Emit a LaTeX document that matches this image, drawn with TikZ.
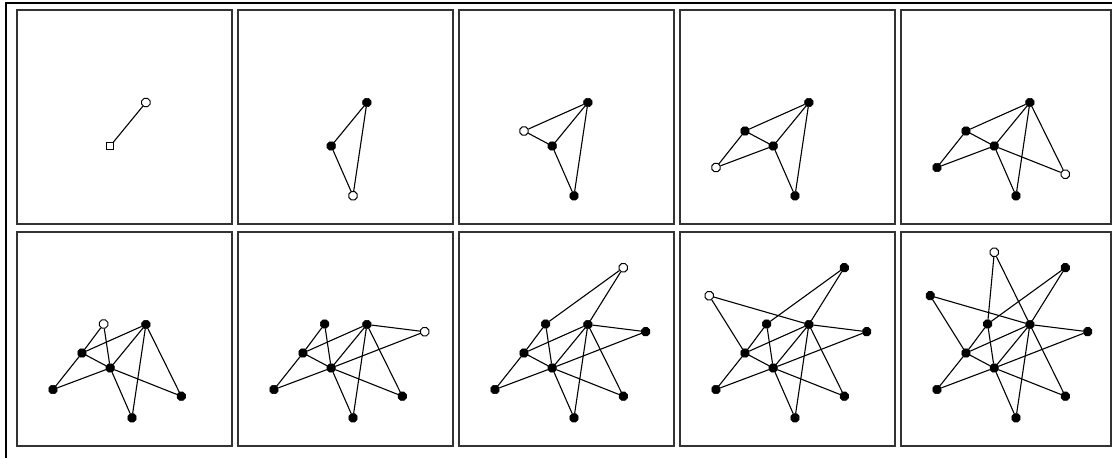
\documentclass[tikz,border=0pt]{standalone}
\usetikzlibrary{shapes.geometric}
\tikzset{
  panelbox/.style={draw=black!80, line width=1.4pt},
  outerline/.style={draw=black, line width=2.2pt},
  vtx/.style={regular polygon, regular polygon sides=8, inner sep=0pt, minimum size=9pt, fill=black, draw=black, line width=0.6pt},
  newvtx/.style={vtx, fill=white, line width=1pt},
  firstvtx/.style={rectangle, inner sep=0pt, minimum size=6.5pt, fill=white, draw=black, line width=1pt},
  link/.style={draw=black, line width=1.1pt}
}
\begin{document}
\begin{tikzpicture}[x=1pt, y=-1pt]
\useasboundingbox (0,0) rectangle (1112,458);
\fill[white] (0,0) rectangle (1112,458);
\draw[outerline] (6,458) -- (6,3) -- (1112,3);
\foreach \p in {1,...,10} {
  \pgfmathtruncatemacro\col{mod(\p-1,5)}
  \pgfmathtruncatemacro\row{int((\p-1)/5)}
  \pgfmathsetmacro\ox{17+221*\col}
  \pgfmathsetmacro\oy{10+222*\row}
  \pgfmathsetmacro\pw{\col==4 ? 210 : 215}
  \pgfmathtruncatemacro\last{\p+1}
  \begin{scope}[shift={(\ox,\oy)}]
    \draw[panelbox] (0,0) rectangle (\pw,214);
    \foreach \nm/\vx/\vy [count=\k] in {A/93.2/136, B/128.9/92.5, C/115/185.8, D/65/121, E/36/157.5, F/164.3/164.2, G/86.6/92, H/186.7/99.7, I/164.3/35.7, J/29.2/63.7, K/93.3/20.3} {
      \ifnum\k<\last
        \ifnum\p=1
          \node[firstvtx] (p\p\nm) at (\vx,\vy) {};
        \else
          \node[vtx] (p\p\nm) at (\vx,\vy) {};
        \fi
      \else\ifnum\k=\last
        \node[newvtx] (p\p\nm) at (\vx,\vy) {};
      \fi\fi
    }
    \foreach \a/\b/\k in {B/A/2, C/A/3, C/B/3, D/A/4, D/B/4, E/D/5, E/A/5, F/B/6, F/A/6, G/D/7, G/A/7, H/B/8, H/A/8, I/G/9, I/B/9, J/B/10, J/D/10, K/G/11, K/B/11} {
      \ifnum\k>\last\else
        \draw[link] (p\p\a) -- (p\p\b);
      \fi
    }
  \end{scope}
}
\end{tikzpicture}
\end{document}
